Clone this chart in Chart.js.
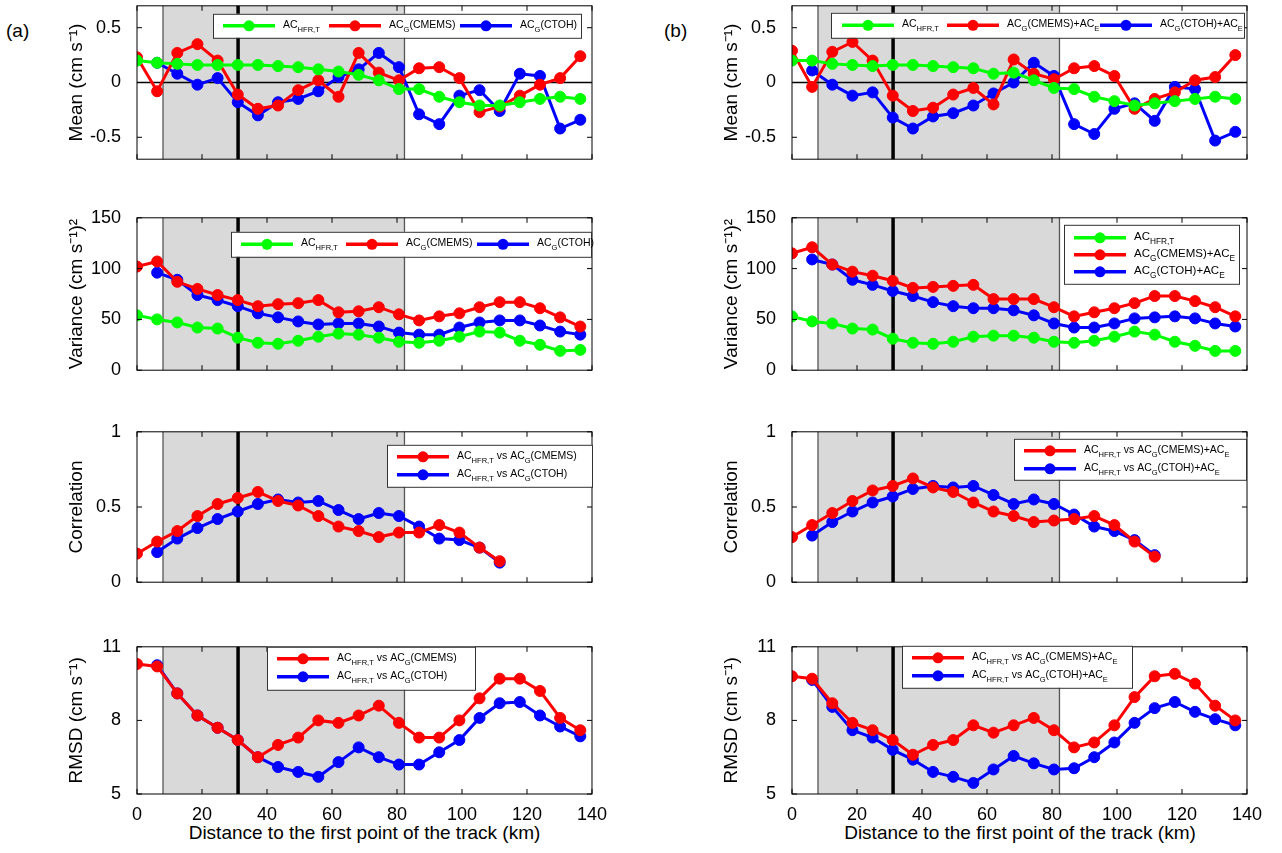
<!DOCTYPE html>
<html>
<head>
<meta charset="utf-8">
<script src="https://cdn.jsdelivr.net/npm/chart.js@4"></script>
<style>
  body { margin: 0; background: #fff; width: 1282px; height: 853px; position: relative; overflow: hidden; font-family: "Liberation Sans", Arial, sans-serif; }
  canvas { position: absolute; }
  .lbl { position: absolute; font-size: 19px; color: #000; }
</style>
</head>
<body>
<div class="lbl" style="left:6px;top:20px;">(a)</div>
<div class="lbl" style="left:664px;top:20px;">(b)</div>
<div class="lbl" style="left:137px;width:455px;top:822px;text-align:center;">Distance to the first point of the track (km)</div>
<div class="lbl" style="left:792px;width:456px;top:822px;text-align:center;">Distance to the first point of the track (km)</div>
<script>
// distance along track (km)
const dist = [0, 6.2, 12.4, 18.6, 24.8, 31, 37.2, 43.4, 49.6, 55.8, 62, 68.2, 74.4, 80.6, 86.8, 93, 99.2, 105.4, 111.6, 117.8, 124, 130.2, 136.4];
const xTicks = [0, 20, 40, 60, 80, 100, 120, 140];
const shadeFrom = 8, shadeTo = 82.3, thickLine = 31.1;

// (a) mean
const meanHfrA = [0.2, 0.18, 0.17, 0.16, 0.16, 0.16, 0.16, 0.15, 0.14, 0.12, 0.1, 0.07, 0.02, -0.06, -0.06, -0.13, -0.18, -0.21, -0.21, -0.18, -0.15, -0.13, -0.15];
const meanCmemsA = [0.23, -0.08, 0.27, 0.35, 0.2, -0.11, -0.24, -0.21, -0.07, 0.02, -0.13, 0.27, 0.09, 0.02, 0.13, 0.14, 0.04, -0.27, -0.22, -0.12, -0.02, 0.04, 0.24];
const meanCtohA = [null, 0.18, 0.08, -0.02, 0.04, -0.18, -0.3, -0.18, -0.15, -0.08, 0.05, 0.12, 0.27, 0.14, -0.29, -0.38, -0.12, -0.07, -0.26, 0.08, 0.06, -0.42, -0.34];
// (b) mean
const meanHfrB = [0.2, 0.2, 0.17, 0.16, 0.15, 0.16, 0.16, 0.15, 0.14, 0.13, 0.08, 0.09, 0.02, -0.05, -0.06, -0.13, -0.17, -0.21, -0.19, -0.17, -0.15, -0.13, -0.15];
const meanCmemsB = [0.29, -0.04, 0.28, 0.37, 0.2, -0.12, -0.26, -0.23, -0.11, -0.05, -0.2, 0.21, 0.08, 0.03, 0.13, 0.15, 0.06, -0.24, -0.15, -0.09, 0.02, 0.05, 0.25];
const meanCtohB = [null, 0.11, -0.02, -0.12, -0.09, -0.32, -0.42, -0.31, -0.28, -0.21, -0.1, 0.0, 0.18, 0.06, -0.38, -0.47, -0.24, -0.19, -0.35, -0.04, -0.06, -0.53, -0.45];

// (a) variance
const varHfrA = [54, 50, 47, 42, 41, 32, 27, 26, 29, 33, 36, 35, 32, 28, 27, 29, 33, 38, 37, 29, 25, 19, 20];
const varCmemsA = [102, 107, 87, 80, 74, 69, 63, 65, 66, 69, 57, 58, 62, 55, 49, 53, 56, 62, 67, 67, 61, 52, 43];
const varCtohA = [null, 96, 89, 74, 69, 63, 56, 52, 48, 45, 46, 46, 43, 37, 35, 35, 42, 47, 49, 49, 44, 38, 35];
// (b) variance
const varHfrB = [53, 48, 46, 41, 40, 31, 27, 26, 28, 33, 34, 34, 32, 28, 27, 29, 33, 38, 35, 28, 24, 19, 19];
const varCmemsB = [115, 121, 104, 97, 93, 88, 81, 82, 83, 84, 70, 70, 70, 62, 53, 57, 61, 66, 73, 73, 68, 62, 53];
const varCtohB = [null, 109, 104, 89, 84, 78, 73, 67, 63, 61, 61, 59, 54, 46, 42, 42, 46, 51, 52, 53, 51, 46, 43];

// correlation
const corCmemsA = [0.19, 0.27, 0.34, 0.44, 0.52, 0.56, 0.6, 0.54, 0.51, 0.44, 0.37, 0.34, 0.3, 0.33, 0.33, 0.38, 0.33, 0.23, 0.14];
const corCtohA = [null, 0.2, 0.29, 0.36, 0.42, 0.47, 0.52, 0.55, 0.53, 0.54, 0.48, 0.42, 0.46, 0.44, 0.37, 0.29, 0.28, 0.23, 0.13];
const corCmemsB = [0.3, 0.38, 0.46, 0.54, 0.61, 0.64, 0.69, 0.63, 0.6, 0.53, 0.47, 0.44, 0.4, 0.41, 0.42, 0.44, 0.38, 0.27, 0.17];
const corCtohB = [null, 0.31, 0.4, 0.47, 0.53, 0.57, 0.62, 0.64, 0.63, 0.64, 0.58, 0.52, 0.55, 0.52, 0.45, 0.37, 0.34, 0.28, 0.18];

// RMSD
const rmsdCmemsA = [10.3, 10.2, 9.1, 8.2, 7.7, 7.2, 6.5, 7.0, 7.3, 8.0, 7.9, 8.2, 8.6, 7.9, 7.3, 7.3, 8.0, 8.9, 9.7, 9.7, 9.2, 8.1, 7.6];
const rmsdCtohA = [null, 10.25, 9.1, 8.2, 7.7, 7.2, 6.5, 6.1, 5.9, 5.7, 6.3, 6.9, 6.5, 6.2, 6.2, 6.7, 7.2, 8.1, 8.7, 8.75, 8.2, 7.75, 7.35];
const rmsdCmemsB = [9.8, 9.7, 8.7, 7.9, 7.6, 7.2, 6.6, 7.0, 7.2, 7.8, 7.5, 7.8, 8.1, 7.6, 6.9, 7.1, 7.8, 8.95, 9.8, 9.9, 9.5, 8.6, 8.0];
const rmsdCtohB = [null, 9.65, 8.55, 7.6, 7.3, 6.8, 6.4, 5.9, 5.7, 5.45, 6.0, 6.55, 6.25, 6.0, 6.05, 6.5, 7.1, 7.9, 8.5, 8.75, 8.35, 8.05, 7.8];

const meanTicks = [-0.5, 0, 0.5], varTicks = [0, 50, 100, 150], corTicks = [0, 0.5, 1], rmsdTicks = [5, 8, 11];

const GREEN = '#00ff00', RED = '#ff0000', BLUE = '#0000ff';
const FONT = '"Liberation Sans", Arial, sans-serif';
const YW = 100; // y-axis area width

function pts(vals) {
  return vals.map((v, i) => ({ x: dist[i], y: v }));
}

// split "AC_{G}(CMEMS)" into normal/subscript pieces
function parseLabel(s) {
  const out = [];
  const re = /_\{([^}]*)\}/g;
  let last = 0, m;
  while ((m = re.exec(s))) {
    if (m.index > last) out.push({ t: s.slice(last, m.index), sub: false });
    out.push({ t: m[1], sub: true });
    last = re.lastIndex;
  }
  if (last < s.length) out.push({ t: s.slice(last), sub: false });
  return out;
}

const decoPlugin = {
  id: 'deco',
  beforeDatasetsDraw(chart) {
    const { ctx, chartArea: a, scales: { x, y } } = chart;
    const p = chart.options.plugins.deco;
    ctx.save();
    const x1 = x.getPixelForValue(shadeFrom), x2 = x.getPixelForValue(shadeTo);
    ctx.fillStyle = '#d9d9d9';
    ctx.fillRect(x1, a.top, x2 - x1, a.bottom - a.top);
    ctx.strokeStyle = '#555';
    ctx.lineWidth = 1.3;
    [x1, x2].forEach(px => { ctx.beginPath(); ctx.moveTo(px, a.top); ctx.lineTo(px, a.bottom); ctx.stroke(); });
    const xt = x.getPixelForValue(thickLine);
    ctx.strokeStyle = '#000';
    ctx.lineWidth = 3.5;
    ctx.beginPath(); ctx.moveTo(xt, a.top); ctx.lineTo(xt, a.bottom); ctx.stroke();
    if (p.zero) {
      const y0 = y.getPixelForValue(0);
      ctx.lineWidth = 1.5;
      ctx.beginPath(); ctx.moveTo(a.left, y0); ctx.lineTo(a.right, y0); ctx.stroke();
    }
    ctx.restore();
  },
  afterDraw(chart) {
    const { ctx, chartArea: a, scales: { x, y } } = chart;
    const p = chart.options.plugins.deco;
    ctx.save();
    ctx.strokeStyle = '#000';
    ctx.lineWidth = 1;
    ctx.strokeRect(a.left, a.top, a.right - a.left, a.bottom - a.top);
    const tl = 5;
    xTicks.forEach(v => {
      const px = x.getPixelForValue(v);
      ctx.beginPath();
      ctx.moveTo(px, a.bottom); ctx.lineTo(px, a.bottom - tl);
      ctx.moveTo(px, a.top); ctx.lineTo(px, a.top + tl);
      ctx.stroke();
    });
    p.yt.forEach(v => {
      const py = y.getPixelForValue(v);
      ctx.beginPath();
      ctx.moveTo(a.left, py); ctx.lineTo(a.left + tl, py);
      ctx.moveTo(a.right, py); ctx.lineTo(a.right - tl, py);
      ctx.stroke();
    });
    // legend, given in page coordinates; convert relative to the plot area
    const L = p.legend;
    const ox = p.px - a.left, oy = p.py - a.top;
    const fs = L.fs || 10.5;
    ctx.fillStyle = '#fff';
    ctx.fillRect(L.x - ox, L.y - oy, L.w, L.h);
    ctx.strokeStyle = '#333';
    ctx.lineWidth = 1;
    ctx.strokeRect(L.x - ox + 0.5, L.y - oy + 0.5, L.w, L.h);
    L.items.forEach((it, i) => {
      const sx = L.x - ox + (L.cols ? L.cols[i] : 10);
      const sy = L.y - oy + (L.rows ? L.rows[i] : L.h / 2);
      ctx.strokeStyle = it.c; ctx.lineWidth = 3.5;
      ctx.beginPath(); ctx.moveTo(sx, sy); ctx.lineTo(sx + 52, sy); ctx.stroke();
      ctx.fillStyle = it.c;
      ctx.beginPath(); ctx.arc(sx + 26, sy, 5.5, 0, Math.PI * 2); ctx.fill();
      let tx = sx + 60;
      ctx.fillStyle = '#000';
      ctx.textBaseline = 'alphabetic';
      parseLabel(it.t).forEach(seg => {
        ctx.font = (seg.sub ? fs * 0.72 : fs) + 'px ' + FONT;
        ctx.fillText(seg.t, tx, sy + (seg.sub ? 6 : 2));
        tx += ctx.measureText(seg.t).width;
      });
    });
    ctx.restore();
  }
};

function panel(o) {
  const bottom = !!o.bottom;
  const xh = bottom ? 28 : 0;
  const cv = document.createElement('canvas');
  cv.width = o.pw + YW + 12;
  cv.height = o.ph + 30 + xh;
  cv.style.width = cv.width + 'px';
  cv.style.height = cv.height + 'px';
  document.body.appendChild(cv);
  const yt = o.yt;
  const chart = new Chart(cv, {
    type: 'line',
    data: {
      datasets: o.series.map(s => ({
        data: pts(s.v),
        borderColor: s.c,
        backgroundColor: s.c,
        borderWidth: 3,
        pointRadius: 5.5,
        pointBorderWidth: 1,
        pointHoverRadius: 5.5,
        spanGaps: false
      }))
    },
    options: {
      responsive: false,
      maintainAspectRatio: false,
      animation: false,
      devicePixelRatio: 1,
      layout: { padding: { left: 0, right: 12, top: 10, bottom: 2 } },
      plugins: {
        legend: { display: false },
        tooltip: { enabled: false },
        deco: { zero: o.zero, yt, legend: o.legend, px: o.px, py: o.py }
      },
      scales: {
        x: {
          type: 'linear', min: 0, max: 140,
          grid: { display: false }, border: { display: false },
          afterBuildTicks: s => { s.ticks = xTicks.map(v => ({ value: v })); },
          afterFit: s => { s.height = xh; },
          ticks: { display: bottom, color: '#000', font: { family: FONT, size: 18 }, padding: 2, maxRotation: 0 }
        },
        y: {
          min: yt[0] === -0.5 ? -0.7 : yt[0], max: yt[0] === -0.5 ? 0.7 : yt[yt.length - 1],
          grid: { display: false }, border: { display: false },
          afterBuildTicks: s => { s.ticks = yt.map(v => ({ value: v })); },
          afterFit: s => { s.width = YW; },
          ticks: { color: '#000', font: { family: FONT, size: 18 }, padding: 8, callback: v => String(v) },
          title: { display: true, text: o.title, color: '#000', font: { family: FONT, size: 19 }, padding: { top: 28, bottom: 0 } }
        }
      }
    },
    plugins: [decoPlugin]
  });
  // grow/shrink the canvas until the plot area has the wanted size, then place it
  for (let k = 0; k < 4; k++) {
    const a = chart.chartArea;
    const dw = Math.round(o.pw - (a.right - a.left)), dh = Math.round(o.ph - (a.bottom - a.top));
    if (!dw && !dh) break;
    chart.resize(chart.width + dw, chart.height + dh);
  }
  const a = chart.chartArea;
  cv.style.left = (o.px - a.left) + 'px';
  cv.style.top = (o.py - a.top) + 'px';
}

const LX = 137, RX = 792, PW = 455;
const rows = [{ py: 6, ph: 153 }, { py: 218, ph: 152 }, { py: 432, ph: 150 }, { py: 647, ph: 147 }];

panel({ px: LX, pw: PW, ...rows[0], yt: meanTicks, zero: true, title: 'Mean (cm s⁻¹)',
  series: [{ v: meanHfrA, c: GREEN }, { v: meanCmemsA, c: RED }, { v: meanCtohA, c: BLUE }],
  legend: { x: 213, y: 14, w: 368, h: 24, cols: [10, 116, 247],
    items: [{ t: 'AC_{HFR,T}', c: GREEN }, { t: 'AC_{G}(CMEMS)', c: RED }, { t: 'AC_{G}(CTOH)', c: BLUE }] } });
panel({ px: RX, pw: PW, ...rows[0], yt: meanTicks, zero: true, title: 'Mean (cm s⁻¹)',
  series: [{ v: meanHfrB, c: GREEN }, { v: meanCmemsB, c: RED }, { v: meanCtohB, c: BLUE }],
  legend: { x: 831, y: 13, w: 413, h: 25, cols: [11, 116, 269],
    items: [{ t: 'AC_{HFR,T}', c: GREEN }, { t: 'AC_{G}(CMEMS)+AC_{E}', c: RED }, { t: 'AC_{G}(CTOH)+AC_{E}', c: BLUE }] } });

panel({ px: LX, pw: PW, ...rows[1], yt: varTicks, title: 'Variance (cm s⁻¹)²',
  series: [{ v: varHfrA, c: GREEN }, { v: varCmemsA, c: RED }, { v: varCtohA, c: BLUE }],
  legend: { x: 231, y: 232, w: 360, h: 25, cols: [10, 115, 246],
    items: [{ t: 'AC_{HFR,T}', c: GREEN }, { t: 'AC_{G}(CMEMS)', c: RED }, { t: 'AC_{G}(CTOH)', c: BLUE }] } });
panel({ px: RX, pw: PW, ...rows[1], yt: varTicks, title: 'Variance (cm s⁻¹)²',
  series: [{ v: varHfrB, c: GREEN }, { v: varCmemsB, c: RED }, { v: varCtohB, c: BLUE }],
  legend: { x: 1064, y: 225, w: 175, h: 59, rows: [13, 30, 47], fs: 11.5,
    items: [{ t: 'AC_{HFR,T}', c: GREEN }, { t: 'AC_{G}(CMEMS)+AC_{E}', c: RED }, { t: 'AC_{G}(CTOH)+AC_{E}', c: BLUE }] } });

panel({ px: LX, pw: PW, ...rows[2], yt: corTicks, title: 'Correlation',
  series: [{ v: corCmemsA, c: RED }, { v: corCtohA, c: BLUE }],
  legend: { x: 387, y: 445, w: 205, h: 42, rows: [12, 30],
    items: [{ t: 'AC_{HFR,T} vs AC_{G}(CMEMS)', c: RED }, { t: 'AC_{HFR,T} vs AC_{G}(CTOH)', c: BLUE }] } });
panel({ px: RX, pw: PW, ...rows[2], yt: corTicks, title: 'Correlation',
  series: [{ v: corCmemsB, c: RED }, { v: corCtohB, c: BLUE }],
  legend: { x: 1014, y: 439, w: 232, h: 41, rows: [12, 30],
    items: [{ t: 'AC_{HFR,T} vs AC_{G}(CMEMS)+AC_{E}', c: RED }, { t: 'AC_{HFR,T} vs AC_{G}(CTOH)+AC_{E}', c: BLUE }] } });

panel({ px: LX, pw: PW, ...rows[3], bottom: true, yt: rmsdTicks, title: 'RMSD (cm s⁻¹)',
  series: [{ v: rmsdCmemsA, c: RED }, { v: rmsdCtohA, c: BLUE }],
  legend: { x: 267, y: 647, w: 208, h: 43, rows: [12, 30],
    items: [{ t: 'AC_{HFR,T} vs AC_{G}(CMEMS)', c: RED }, { t: 'AC_{HFR,T} vs AC_{G}(CTOH)', c: BLUE }] } });
panel({ px: RX, pw: PW, ...rows[3], bottom: true, yt: rmsdTicks, title: 'RMSD (cm s⁻¹)',
  series: [{ v: rmsdCmemsB, c: RED }, { v: rmsdCtohB, c: BLUE }],
  legend: { x: 902, y: 646, w: 230, h: 42, rows: [12, 30],
    items: [{ t: 'AC_{HFR,T} vs AC_{G}(CMEMS)+AC_{E}', c: RED }, { t: 'AC_{HFR,T} vs AC_{G}(CTOH)+AC_{E}', c: BLUE }] } });
</script>
</body>
</html>
